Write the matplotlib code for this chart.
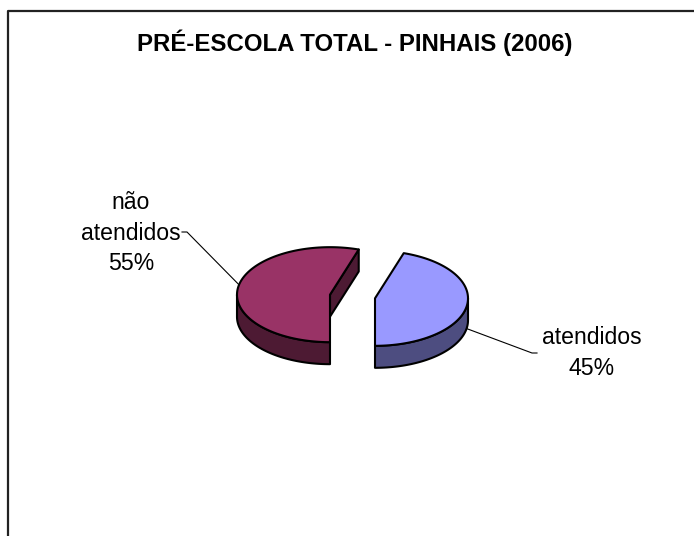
import numpy as np
import matplotlib.pyplot as plt
from matplotlib.patches import Polygon

plt.rcParams['font.family'] = ['Liberation Sans', 'DejaVu Sans']

# data
title = 'PRÉ-ESCOLA TOTAL - PINHAIS (2006)'
labels = ['atendidos', 'não\natendidos']
values = [45, 55]
top_colors = ['#9999ff', '#993366']
side_colors = ['#4d4d80', '#4d1a33']

# pie geometry (pixels, y down)
cx, cy = 352.5, 296.5
rx, ry = 93, 47.5
depth = 22
explode = 0.245

fig = plt.figure(figsize=(6.94, 5.36), dpi=100)
ax = fig.add_axes([0, 0, 1, 1])
ax.set_xlim(0, 694)
ax.set_ylim(536, 0)
ax.axis('off')

# frame (left and top only visible)
ax.plot([8, 8, 700], [540, 11, 11], color='#222222', lw=1.6, solid_capstyle='butt')

ax.text(355, 43, title, ha='center', va='center', fontsize=17.3, fontweight='bold')


def rim(t, c):
    r = np.radians(t)
    return c[0] + rx * np.sin(r), c[1] - ry * np.cos(r)


total = sum(values)
spans = [360 * v / total for v in values]
start = 180 - spans[0]
centers = []
a0 = start
for i, sp in enumerate(spans):
    a1 = a0 + sp
    mid = np.radians((a0 + a1) / 2)
    c = (cx + explode * rx * np.sin(mid), cy - explode * ry * np.cos(mid))
    centers.append(c)

    # cut faces facing the viewer
    for a, n in [(a0, a0 - 90), (a1, a1 + 90)]:
        if np.cos(np.radians(n)) < -1e-6:
            p = rim(a, c)
            quad = [c, p, (p[0], p[1] + depth), (c[0], c[1] + depth)]
            ax.add_patch(Polygon(quad, closed=True, fc=side_colors[i], ec='black', lw=1.5, joinstyle='round'))

    # front side wall
    for lo, hi in [(90, 270), (450, 630)]:
        s0, s1 = max(a0, lo), min(a1, hi)
        if s1 > s0:
            ts = np.linspace(s0, s1, 80)
            top = [rim(t, c) for t in ts]
            bot = [(x, y + depth) for x, y in top[::-1]]
            ax.add_patch(Polygon(top + bot, closed=True, fc=side_colors[i], ec='black', lw=1.5, joinstyle='round'))

    # top face
    ts = np.linspace(a0, a1, 120)
    pts = [c] + [rim(t, c) for t in ts]
    ax.add_patch(Polygon(pts, closed=True, fc=top_colors[i], ec='black', lw=1.5, joinstyle='round'))
    a0 = a1

# labels with leader lines
pcts = ['%d%%' % round(100 * v / total) for v in values]

# atendidos
px, py = rim(100, centers[0])
ax.plot([px, 532, 537], [py + depth, 353, 353], color='black', lw=0.8)
ax.text(592, 353, labels[0] + '\n' + pcts[0], ha='center', va='center',
        fontsize=16.6, linespacing=1.45, multialignment='center')

# nao atendidos
px, py = rim(282, centers[1])
ax.plot([px, 187, 182], [py, 232, 232], color='black', lw=0.8)
ax.text(131, 233, labels[1] + '\n' + pcts[1], ha='center', va='center',
        fontsize=16.6, linespacing=1.4, multialignment='center')

fig.savefig('out.png', dpi=100)
